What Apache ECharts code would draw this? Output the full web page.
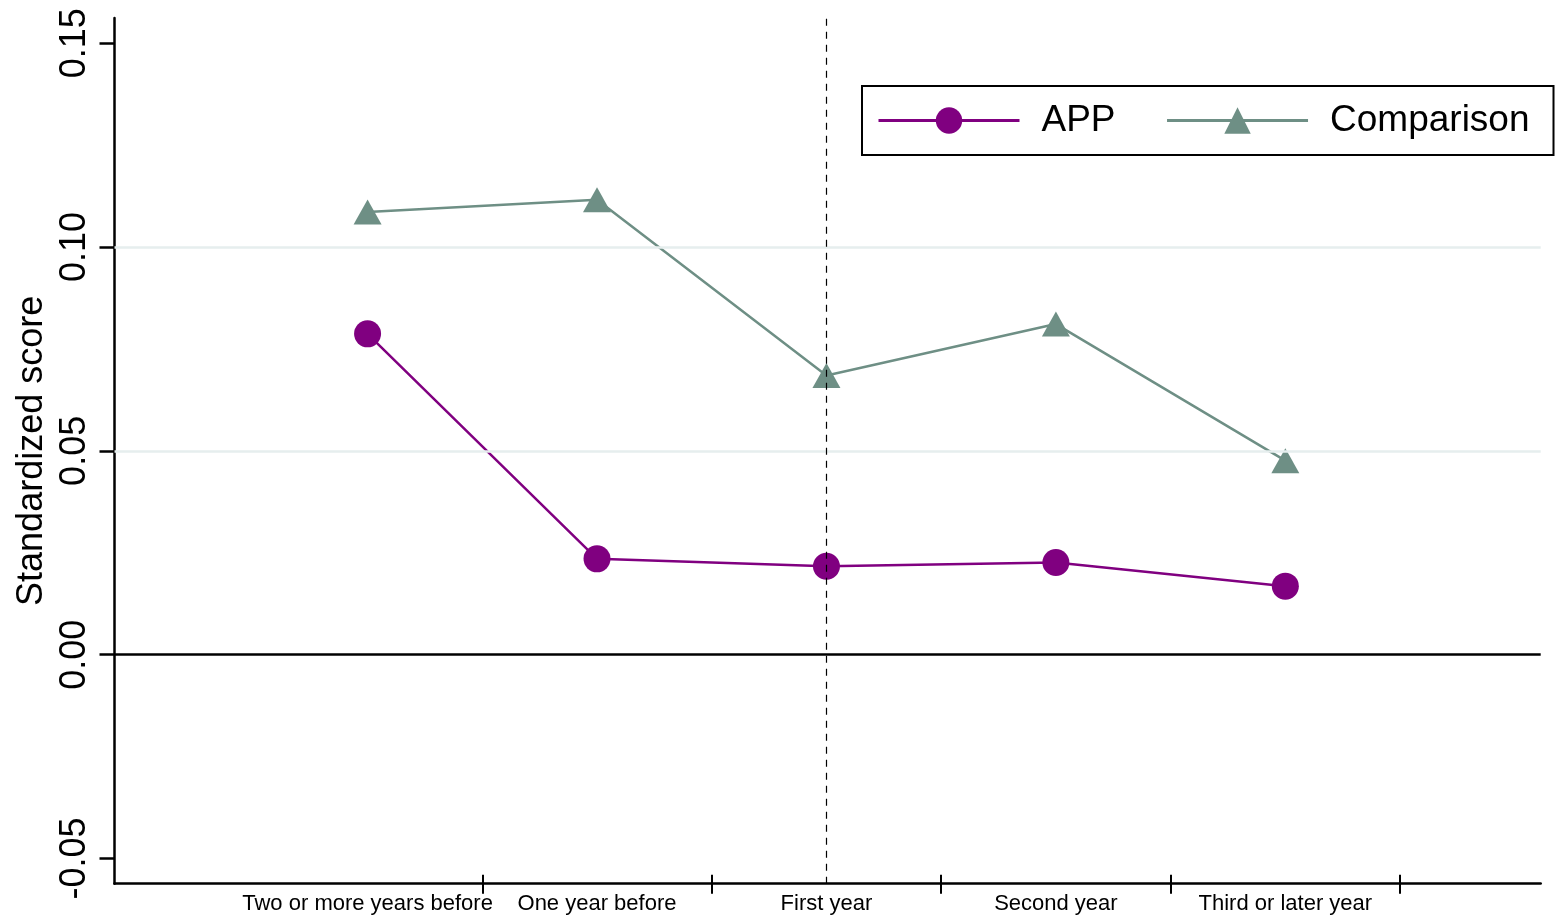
<!DOCTYPE html>
<html>
<head>
<meta charset="utf-8">
<script src="https://cdn.jsdelivr.net/npm/echarts@6/dist/echarts.min.js"></script>
<style>
html,body{margin:0;padding:0;background:#fff;}
#chart{width:1556px;height:917px;}
</style>
</head>
<body>
<div id="chart"></div>
<script>
const categories = ['Two or more years before', 'One year before', 'First year', 'Second year', 'Third or later year'];
const categoryPositions = [1, 2, 3, 4, 5];
const boundaryPositions = [1.5, 2.5, 3.5, 4.5, 5.5];
const appValues = [0.0787, 0.0235, 0.0217, 0.0226, 0.0168];
const comparisonValues = [0.1086, 0.1116, 0.0685, 0.0811, 0.0476];
const yTickValues = [-0.05, 0, 0.05, 0.10, 0.15];
const gridValues = [0.05, 0.10];
const zeroValue = 0;
const eventPosition = 3;

const FONT = "'Liberation Sans', Arial, sans-serif";

const chart = echarts.init(document.getElementById('chart'), null, {renderer: 'canvas'});

const option = {
  animation: false,
  backgroundColor: '#ffffff',
  grid: {left: 114.5, right: 15.3, top: 18, bottom: 33.3, containLabel: false},
  legend: {
    data: ['APP', 'Comparison'],
    left: 862,
    top: 86,
    orient: 'horizontal',
    borderColor: '#000',
    borderWidth: 2,
    padding: [16, 24, 16, 15],
    itemWidth: 141,
    itemHeight: 33,
    itemGap: 50,
    lineStyle: {width: 3},
    textStyle: {fontFamily: FONT, fontSize: 37, color: '#000', padding: [0, 0, 0, 17]},
    selectedMode: false
  },
  xAxis: [{
    type: 'value',
    min: -0.103,
    max: 6.113,
    axisLine: {show: true, onZero: false, lineStyle: {color: '#000', width: 2.5}},
    axisTick: {show: true, customValues: boundaryPositions, length: 10, lineStyle: {color: '#000', width: 2}},
    axisLabel: {
      show: true,
      customValues: categoryPositions,
      formatter: function (v) { return categories[Math.round(v) - 1] || ''; },
      fontFamily: FONT, fontSize: 22, color: '#000', margin: 9
    },
    splitLine: {show: false}
  }, {
    type: 'value',
    min: -0.103,
    max: 6.113,
    position: 'bottom',
    axisLine: {show: false, onZero: false},
    axisTick: {show: true, inside: true, customValues: boundaryPositions, length: 9, lineStyle: {color: '#000', width: 2}},
    axisLabel: {show: false},
    splitLine: {show: false}
  }],
  yAxis: {
    type: 'value',
    min: -0.0562,
    max: 0.1562,
    name: 'Standardized score',
    nameLocation: 'middle',
    nameGap: 60,
    nameRotate: 90,
    nameTextStyle: {fontFamily: FONT, fontSize: 36, color: '#000'},
    axisLine: {show: true, onZero: false, lineStyle: {color: '#000', width: 2.5}},
    axisTick: {show: true, customValues: yTickValues, length: 15, lineStyle: {color: '#000', width: 2.5}},
    axisLabel: {
      show: true,
      customValues: yTickValues,
      rotate: 90,
      formatter: function (v) { return v.toFixed(2); },
      fontFamily: FONT, fontSize: 36, color: '#000', margin: 21
    },
    splitLine: {show: false}
  },
  series: [
    {
      name: 'reference lines',
      type: 'line',
      data: [],
      z: 1,
      silent: true,
      markLine: {
        silent: true,
        symbol: 'none',
        label: {show: false},
        animation: false,
        data: [
          ...gridValues.map(v => ({yAxis: v, lineStyle: {color: '#e6eeee', width: 2.5, type: 'solid'}})),
          {yAxis: zeroValue, lineStyle: {color: '#000', width: 2.5, type: 'solid'}},
          {xAxis: eventPosition, lineStyle: {color: '#000', width: 1.2, type: [7, 6]}}
        ]
      }
    },
    {
      name: 'APP',
      type: 'line',
      z: 3,
      data: categoryPositions.map((x, i) => [x, appValues[i]]),
      symbol: 'circle',
      symbolSize: 27,
      itemStyle: {color: '#800080'},
      lineStyle: {color: '#800080', width: 2.5}
    },
    {
      name: 'Comparison',
      type: 'line',
      z: 3,
      data: categoryPositions.map((x, i) => [x, comparisonValues[i]]),
      symbol: 'triangle',
      symbolSize: [28, 25],
      itemStyle: {color: '#6e8f85'},
      lineStyle: {color: '#6e8f85', width: 2.5}
    }
  ]
};
chart.setOption(option);
</script>
</body>
</html>
